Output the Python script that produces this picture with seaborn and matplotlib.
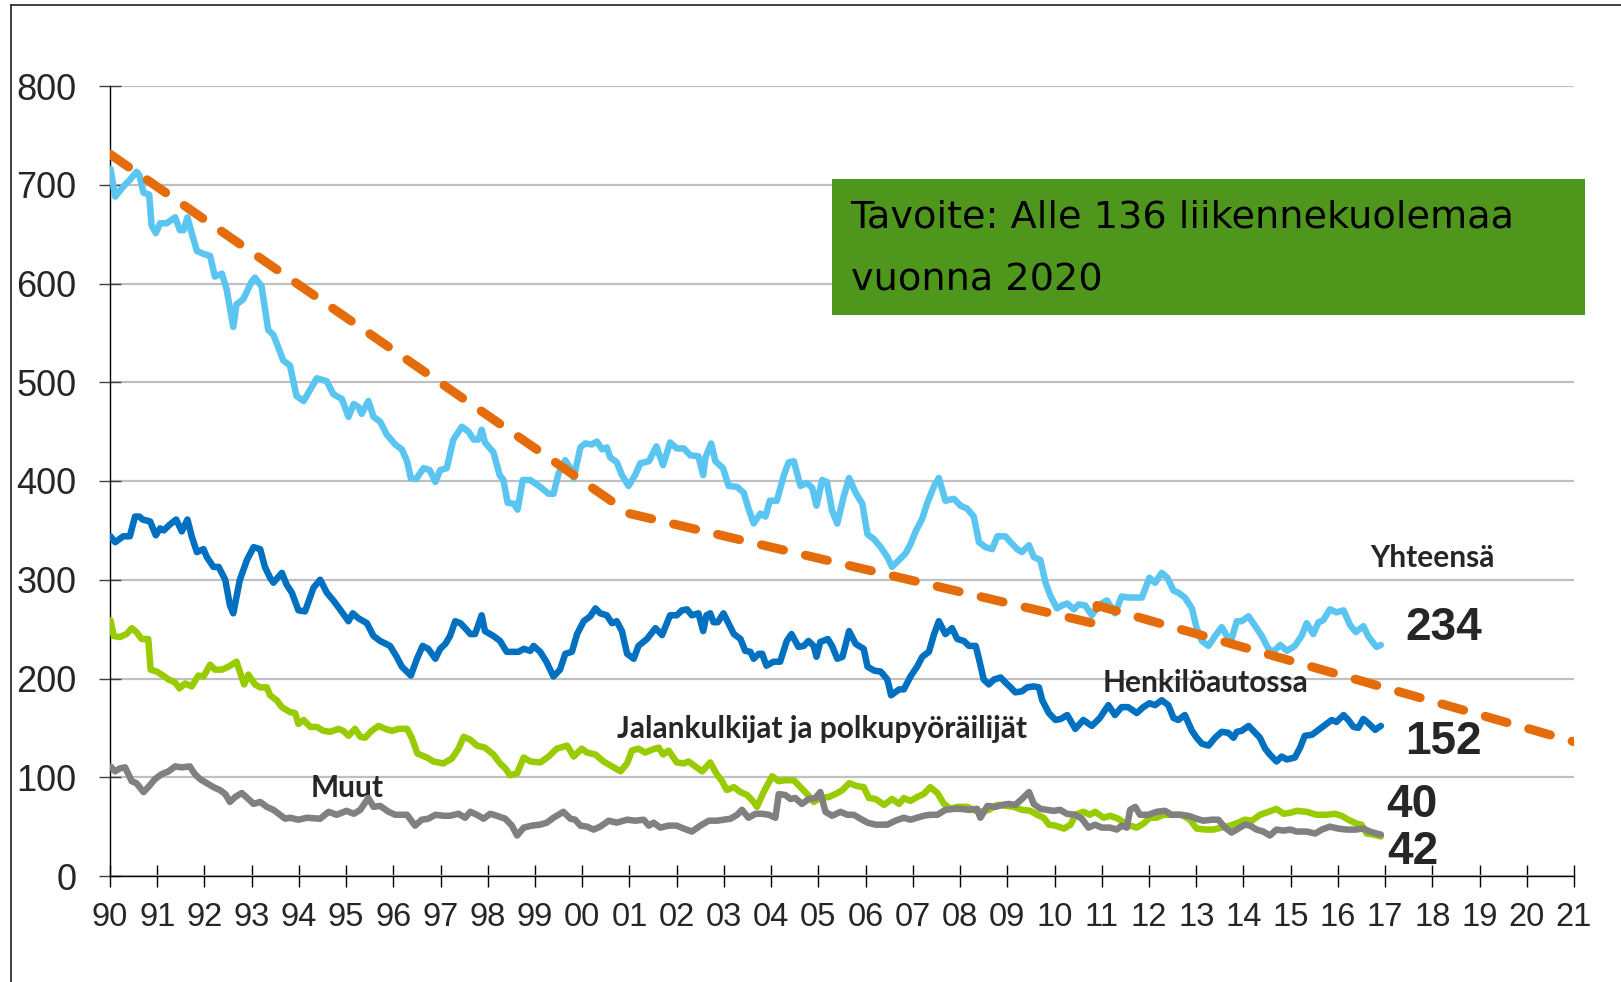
import matplotlib
matplotlib.use("Agg")
import matplotlib.pyplot as plt
import seaborn as sns
import pandas as pd
from matplotlib.patches import Rectangle
from matplotlib.lines import Line2D

# ---------------- data (rolling 12-month road deaths) -------------
t_total = [1990.01, 1990.11, 1990.28, 1990.42, 1990.56, 1990.62, 1990.71, 1990.83, 1990.88, 1990.97,
           1991.06, 1991.20, 1991.38, 1991.48, 1991.56, 1991.64, 1991.73, 1991.84, 1991.98, 1992.12,
           1992.22, 1992.37, 1992.47, 1992.61, 1992.68, 1992.82, 1993.00, 1993.07, 1993.21, 1993.35,
           1993.46, 1993.67, 1993.81, 1993.95, 1994.10, 1994.38, 1994.59, 1994.73, 1994.91, 1995.05,
           1995.16, 1995.26, 1995.33, 1995.47, 1995.58, 1995.72, 1995.86, 1996.04, 1996.18, 1996.29,
           1996.37, 1996.48, 1996.64, 1996.77, 1996.89, 1996.99, 1997.13, 1997.27, 1997.45, 1997.59,
           1997.70, 1997.80, 1997.87, 1997.94, 1998.12, 1998.25, 1998.33, 1998.42, 1998.55, 1998.63,
           1998.74, 1998.90, 1999.11, 1999.29, 1999.39, 1999.50, 1999.64, 1999.75, 1999.82, 1999.96,
           2000.06, 2000.20, 2000.31, 2000.42, 2000.52, 2000.59, 2000.73, 2000.84, 2000.98, 2001.12,
           2001.23, 2001.41, 2001.57, 2001.71, 2001.86, 2002.00, 2002.15, 2002.29, 2002.46, 2002.56,
           2002.61, 2002.73, 2002.82, 2002.98, 2003.10, 2003.28, 2003.42, 2003.52, 2003.63, 2003.77,
           2003.88, 2003.97, 2004.12, 2004.27, 2004.37, 2004.48, 2004.62, 2004.76, 2004.87, 2004.96,
           2005.08, 2005.18, 2005.29, 2005.40, 2005.54, 2005.65, 2005.79, 2005.93, 2006.04, 2006.18,
           2006.32, 2006.46, 2006.56, 2006.71, 2006.85, 2006.95, 2007.06, 2007.20, 2007.30, 2007.45,
           2007.55, 2007.69, 2007.87, 2008.01, 2008.15, 2008.29, 2008.40, 2008.54, 2008.68, 2008.79,
           2008.96, 2009.07, 2009.21, 2009.31, 2009.46, 2009.56, 2009.70, 2009.81, 2009.91, 2010.05,
           2010.16, 2010.27, 2010.41, 2010.51, 2010.65, 2010.79, 2010.93, 2011.11, 2011.28, 2011.42,
           2011.56, 2011.85, 2012.01, 2012.13, 2012.27, 2012.39, 2012.52, 2012.62, 2012.76, 2012.91,
           2013.01, 2013.12, 2013.26, 2013.40, 2013.54, 2013.65, 2013.75, 2013.86, 2013.96, 2014.11,
           2014.25, 2014.39, 2014.53, 2014.63, 2014.78, 2014.92, 2015.09, 2015.23, 2015.34, 2015.48,
           2015.59, 2015.69, 2015.83, 2015.97, 2016.12, 2016.26, 2016.38, 2016.54, 2016.64, 2016.75,
           2016.82, 2016.91]
v_total = [716, 688, 698, 705, 713, 710, 692, 690, 659, 651,
           661, 661, 667, 654, 654, 667, 651, 633, 630, 628,
           607, 610, 594, 556, 579, 584, 602, 606, 597, 553,
           548, 522, 517, 486, 481, 504, 501, 488, 483, 465,
           478, 475, 468, 481, 465, 460, 447, 437, 432, 420,
           403, 402, 413, 411, 399, 411, 413, 442, 455, 450,
           442, 442, 452, 439, 429, 406, 401, 378, 377, 371,
           401, 401, 394, 387, 387, 408, 421, 413, 403, 434,
           438, 437, 440, 432, 434, 424, 419, 406, 395, 406,
           418, 420, 435, 416, 439, 433, 433, 426, 425, 406,
           424, 438, 420, 413, 395, 394, 388, 372, 357, 367,
           364, 380, 380, 406, 419, 420, 395, 398, 393, 375,
           401, 399, 370, 357, 385, 403, 388, 377, 346, 341,
           333, 323, 313, 320, 327, 336, 349, 362, 377, 395,
           403, 380, 382, 375, 372, 364, 338, 333, 331, 344,
           344, 338, 331, 328, 335, 323, 320, 297, 284, 271,
           274, 276, 270, 275, 274, 264, 274, 279, 266, 283,
           282, 282, 302, 297, 307, 302, 289, 287, 282, 271,
           251, 238, 233, 243, 252, 243, 240, 258, 258, 263,
           253, 243, 230, 227, 234, 228, 233, 243, 256, 245,
           257, 259, 270, 267, 269, 254, 247, 253, 243, 236,
           232, 234]

t_car = [1990.01, 1990.11, 1990.28, 1990.42, 1990.53, 1990.62, 1990.69, 1990.85, 1990.97, 1991.06,
         1991.14, 1991.27, 1991.40, 1991.52, 1991.64, 1991.73, 1991.84, 1991.98, 1992.05, 1992.19,
         1992.30, 1992.44, 1992.54, 1992.61, 1992.75, 1992.90, 1993.04, 1993.18, 1993.28, 1993.39,
         1993.46, 1993.64, 1993.74, 1993.85, 1993.99, 1994.13, 1994.31, 1994.45, 1994.59, 1994.73,
         1994.87, 1995.05, 1995.14, 1995.26, 1995.44, 1995.58, 1995.72, 1995.93, 1996.07, 1996.18,
         1996.37, 1996.50, 1996.62, 1996.74, 1996.89, 1996.99, 1997.10, 1997.20, 1997.31, 1997.42,
         1997.52, 1997.63, 1997.73, 1997.87, 1997.94, 1998.12, 1998.26, 1998.40, 1998.65, 1998.76,
         1998.90, 1998.97, 1999.11, 1999.24, 1999.39, 1999.53, 1999.64, 1999.78, 1999.89, 2000.03,
         2000.17, 2000.28, 2000.38, 2000.52, 2000.63, 2000.73, 2000.84, 2000.95, 2001.09, 2001.19,
         2001.37, 2001.55, 2001.69, 2001.86, 2002.00, 2002.11, 2002.22, 2002.32, 2002.46, 2002.56,
         2002.63, 2002.71, 2002.78, 2002.87, 2002.99, 2003.21, 2003.35, 2003.45, 2003.56, 2003.63,
         2003.74, 2003.81, 2003.90, 2004.05, 2004.19, 2004.33, 2004.43, 2004.58, 2004.69, 2004.79,
         2004.90, 2004.96, 2005.04, 2005.20, 2005.29, 2005.40, 2005.51, 2005.65, 2005.79, 2005.96,
         2006.04, 2006.18, 2006.32, 2006.46, 2006.54, 2006.71, 2006.81, 2006.95, 2007.09, 2007.20,
         2007.34, 2007.45, 2007.55, 2007.69, 2007.83, 2007.94, 2008.08, 2008.19, 2008.33, 2008.40,
         2008.50, 2008.61, 2008.72, 2008.86, 2008.96, 2009.07, 2009.17, 2009.31, 2009.42, 2009.56,
         2009.67, 2009.74, 2009.88, 2010.02, 2010.13, 2010.27, 2010.44, 2010.61, 2010.79, 2010.96,
         2011.14, 2011.28, 2011.42, 2011.56, 2011.74, 2011.88, 2012.01, 2012.13, 2012.27, 2012.41,
         2012.52, 2012.62, 2012.76, 2012.91, 2013.01, 2013.12, 2013.26, 2013.40, 2013.54, 2013.68,
         2013.79, 2013.86, 2013.96, 2014.11, 2014.25, 2014.35, 2014.46, 2014.56, 2014.70, 2014.81,
         2014.92, 2015.09, 2015.20, 2015.30, 2015.45, 2015.59, 2015.73, 2015.87, 2015.97, 2016.12,
         2016.22, 2016.33, 2016.43, 2016.54, 2016.64, 2016.79, 2016.91]
v_car = [344, 338, 344, 344, 364, 364, 361, 359, 345, 352,
         350, 356, 361, 349, 361, 344, 328, 331, 323, 313,
         313, 300, 274, 266, 300, 320, 333, 331, 313, 302,
         297, 307, 295, 287, 269, 268, 292, 300, 287, 279,
         270, 258, 266, 261, 256, 243, 238, 233, 222, 212,
         203, 220, 233, 230, 220, 230, 235, 243, 258, 256,
         251, 245, 245, 264, 248, 243, 238, 227, 227, 230,
         228, 233, 227, 217, 202, 209, 225, 227, 245, 258,
         263, 271, 266, 264, 256, 258, 248, 225, 220, 233,
         240, 251, 244, 264, 264, 269, 270, 264, 266, 248,
         264, 266, 257, 257, 266, 245, 240, 228, 227, 220,
         225, 225, 213, 217, 217, 238, 245, 232, 233, 238,
         233, 222, 237, 240, 233, 220, 222, 248, 235, 230,
         212, 208, 207, 199, 183, 189, 189, 202, 212, 222,
         227, 245, 258, 245, 251, 240, 238, 233, 233, 220,
         199, 194, 199, 201, 196, 191, 186, 187, 191, 192,
         191, 178, 165, 158, 159, 163, 149, 158, 152, 160,
         173, 163, 171, 171, 165, 171, 175, 173, 178, 173,
         160, 158, 163, 147, 140, 134, 132, 140, 146, 145,
         140, 146, 147, 152, 145, 140, 129, 123, 116, 121,
         118, 120, 130, 142, 143, 148, 153, 158, 156, 163,
         158, 151, 150, 159, 155, 148, 152]

t_ped = [1990.01, 1990.08, 1990.21, 1990.35, 1990.46, 1990.56, 1990.67, 1990.81, 1990.86, 1990.99,
         1991.09, 1991.24, 1991.38, 1991.47, 1991.59, 1991.73, 1991.87, 1991.98, 1992.12, 1992.22,
         1992.37, 1992.51, 1992.68, 1992.84, 1992.93, 1993.07, 1993.18, 1993.32, 1993.39, 1993.53,
         1993.64, 1993.81, 1993.92, 1993.99, 1994.10, 1994.24, 1994.38, 1994.52, 1994.66, 1994.84,
         1994.94, 1995.05, 1995.19, 1995.30, 1995.40, 1995.54, 1995.69, 1995.83, 1995.97, 1996.11,
         1996.29, 1996.39, 1996.51, 1996.71, 1996.85, 1997.06, 1997.24, 1997.38, 1997.49, 1997.63,
         1997.77, 1997.94, 1998.12, 1998.26, 1998.37, 1998.47, 1998.62, 1998.76, 1998.90, 1999.11,
         1999.29, 1999.46, 1999.68, 1999.82, 1999.99, 2000.10, 2000.28, 2000.45, 2000.63, 2000.81,
         2000.95, 2001.05, 2001.19, 2001.33, 2001.48, 2001.62, 2001.71, 2001.83, 2002.00, 2002.15,
         2002.25, 2002.39, 2002.54, 2002.71, 2002.85, 2002.96, 2003.06, 2003.21, 2003.35, 2003.49,
         2003.63, 2003.70, 2003.84, 2004.02, 2004.16, 2004.30, 2004.48, 2004.62, 2004.76, 2004.90,
         2005.04, 2005.22, 2005.36, 2005.51, 2005.65, 2005.82, 2005.96, 2006.07, 2006.21, 2006.39,
         2006.56, 2006.71, 2006.81, 2006.95, 2007.09, 2007.23, 2007.37, 2007.52, 2007.66, 2007.80,
         2007.94, 2008.15, 2008.33, 2008.43, 2008.61, 2008.79, 2008.96, 2009.14, 2009.31, 2009.49,
         2009.63, 2009.77, 2009.88, 2010.02, 2010.20, 2010.34, 2010.44, 2010.61, 2010.75, 2010.86,
         2011.04, 2011.18, 2011.35, 2011.53, 2011.74, 2011.88, 2012.02, 2012.16, 2012.31, 2012.52,
         2012.69, 2012.87, 2013.01, 2013.22, 2013.36, 2013.54, 2013.72, 2013.89, 2014.03, 2014.18,
         2014.35, 2014.53, 2014.70, 2014.85, 2014.99, 2015.13, 2015.34, 2015.55, 2015.76, 2015.94,
         2016.08, 2016.22, 2016.40, 2016.50, 2016.61, 2016.75, 2016.91]
v_ped = [259, 243, 242, 245, 251, 247, 240, 240, 209, 207,
         204, 199, 196, 190, 195, 192, 203, 202, 214, 209,
         209, 212, 217, 194, 204, 194, 191, 191, 183, 178,
         171, 166, 165, 154, 158, 151, 151, 147, 146, 149,
         147, 142, 149, 141, 140, 147, 152, 149, 147, 149,
         149, 140, 124, 120, 116, 114, 119, 129, 141, 138,
         132, 130, 123, 114, 109, 102, 104, 120, 116, 115,
         121, 129, 132, 121, 129, 125, 123, 116, 111, 106,
         114, 127, 129, 125, 128, 130, 123, 127, 115, 114,
         116, 111, 106, 115, 103, 96, 87, 90, 85, 82,
         75, 70, 85, 101, 96, 97, 97, 90, 83, 75,
         79, 80, 83, 87, 94, 91, 90, 79, 78, 72,
         78, 73, 79, 76, 80, 83, 90, 84, 73, 68,
         70, 70, 66, 65, 67, 72, 71, 70, 67, 66,
         62, 59, 52, 51, 48, 52, 62, 65, 62, 65,
         59, 61, 58, 52, 49, 53, 59, 59, 62, 62,
         62, 57, 48, 47, 47, 49, 51, 54, 57, 56,
         62, 65, 68, 63, 64, 66, 65, 62, 62, 63,
         61, 57, 53, 52, 43, 42, 40]

t_other = [1990.01, 1990.11, 1990.21, 1990.32, 1990.39, 1990.46, 1990.56, 1990.71, 1990.81, 1990.95,
           1991.09, 1991.24, 1991.38, 1991.52, 1991.69, 1991.80, 1991.91, 1992.05, 1992.19, 1992.33,
           1992.44, 1992.54, 1992.65, 1992.79, 1992.93, 1993.04, 1993.18, 1993.32, 1993.46, 1993.60,
           1993.71, 1993.81, 1993.99, 1994.17, 1994.45, 1994.63, 1994.80, 1995.01, 1995.16, 1995.30,
           1995.47, 1995.58, 1995.72, 1995.90, 1996.04, 1996.29, 1996.46, 1996.60, 1996.74, 1996.89,
           1997.06, 1997.20, 1997.38, 1997.52, 1997.63, 1997.77, 1997.91, 1998.05, 1998.19, 1998.37,
           1998.51, 1998.62, 1998.76, 1998.93, 1999.11, 1999.25, 1999.39, 1999.60, 1999.75, 1999.85,
           1999.96, 2000.10, 2000.24, 2000.38, 2000.56, 2000.73, 2000.95, 2001.12, 2001.30, 2001.41,
           2001.51, 2001.65, 2001.83, 2002.00, 2002.15, 2002.32, 2002.50, 2002.68, 2002.85, 2002.99,
           2003.14, 2003.28, 2003.38, 2003.52, 2003.67, 2003.81, 2003.95, 2004.09, 2004.16, 2004.30,
           2004.41, 2004.51, 2004.65, 2004.80, 2004.94, 2005.04, 2005.15, 2005.29, 2005.47, 2005.61,
           2005.75, 2005.89, 2006.04, 2006.21, 2006.46, 2006.63, 2006.81, 2006.95, 2007.09, 2007.23,
           2007.37, 2007.52, 2007.69, 2007.87, 2008.01, 2008.19, 2008.36, 2008.43, 2008.58, 2008.75,
           2008.89, 2009.03, 2009.17, 2009.31, 2009.46, 2009.56, 2009.70, 2009.84, 2009.98, 2010.12,
           2010.26, 2010.44, 2010.58, 2010.72, 2010.86, 2011.00, 2011.18, 2011.32, 2011.42, 2011.53,
           2011.60, 2011.71, 2011.81, 2011.99, 2012.16, 2012.34, 2012.48, 2012.66, 2012.83, 2013.01,
           2013.15, 2013.33, 2013.47, 2013.61, 2013.75, 2013.89, 2014.03, 2014.14, 2014.28, 2014.42,
           2014.56, 2014.70, 2014.85, 2014.99, 2015.13, 2015.34, 2015.52, 2015.66, 2015.83, 2016.01,
           2016.19, 2016.36, 2016.54, 2016.68, 2016.82, 2016.91]
v_other = [111, 106, 109, 110, 103, 96, 94, 85, 90, 98,
           103, 106, 111, 110, 111, 103, 98, 94, 90, 87,
           83, 75, 80, 84, 78, 73, 75, 70, 67, 62,
           58, 59, 57, 59, 58, 65, 62, 66, 63, 67,
           79, 70, 71, 65, 62, 62, 51, 57, 58, 62,
           61, 61, 63, 59, 65, 62, 58, 63, 61, 58,
           51, 41, 49, 51, 52, 54, 59, 65, 58, 57,
           51, 50, 47, 50, 56, 54, 57, 56, 57, 51,
           54, 49, 51, 51, 48, 45, 51, 56, 56, 57,
           58, 62, 67, 59, 63, 63, 62, 59, 83, 82,
           78, 79, 73, 78, 79, 85, 65, 61, 65, 62,
           62, 58, 54, 52, 52, 56, 59, 57, 59, 61,
           62, 62, 67, 68, 68, 67, 68, 59, 71, 70,
           72, 73, 72, 78, 85, 73, 68, 67, 66, 67,
           63, 62, 58, 49, 52, 49, 49, 47, 51, 49,
           67, 70, 62, 62, 65, 66, 62, 62, 61, 58,
           56, 57, 57, 49, 44, 48, 52, 51, 47, 45,
           41, 47, 46, 47, 45, 45, 43, 47, 50, 48,
           47, 47, 48, 45, 43, 42]

# target path (dashed orange)
t_target = [1990.0, 2001.0, 2010.9, 2010.9, 2021.0]
v_target = [731, 367, 255, 274, 136]

# axis ticks
year_ticks = list(range(1990, 2022))
year_labels = [f"{y % 100:02d}" for y in year_ticks]
value_ticks = list(range(0, 900, 100))

# end labels
end_labels = ["234", "152", "40", "42"]
series_names = ["Yhteensä", "Henkilöautossa", "Jalankulkijat ja polkupyöräilijät", "Muut"]
goal_lines = ["Tavoite: Alle 136 liikennekuolemaa", "vuonna 2020"]

# ---------------- styling -------------
sns.set_style("white")
plt.rcParams['font.family'] = ['Liberation Sans', 'DejaVu Sans']

W, H = 1621, 982
fig = plt.figure(figsize=(W / 100, H / 100), dpi=100)
ax = fig.add_axes([110 / W, 1 - 876 / H, (1574 - 110) / W, (876 - 86) / H])

c_total = "#5BC5F2"
c_car = "#0070C0"
c_ped = "#99CC00"
c_other = "#808080"
c_target = "#E46C0A"

df_total = pd.DataFrame({"t": t_total, "v": v_total})
df_car = pd.DataFrame({"t": t_car, "v": v_car})
df_ped = pd.DataFrame({"t": t_ped, "v": v_ped})
df_other = pd.DataFrame({"t": t_other, "v": v_other})
df_target = pd.DataFrame({"t": t_target, "v": v_target})

LW = 4.7
common = dict(estimator=None, sort=False, ax=ax, legend=False)
sns.lineplot(data=df_total, x="t", y="v", color=c_total, lw=LW, zorder=3,
             solid_joinstyle="round", solid_capstyle="round", **common)
sns.lineplot(data=df_car, x="t", y="v", color=c_car, lw=LW, zorder=3,
             solid_joinstyle="round", solid_capstyle="round", **common)
sns.lineplot(data=df_ped, x="t", y="v", color=c_ped, lw=LW, zorder=3,
             solid_joinstyle="round", solid_capstyle="round", **common)
sns.lineplot(data=df_other, x="t", y="v", color=c_other, lw=LW, zorder=3.1,
             solid_joinstyle="round", solid_capstyle="round", **common)
sns.lineplot(data=df_target, x="t", y="v", color=c_target, lw=6.5, zorder=4,
             linestyle=(0, (2.5, 2.5)), dash_capstyle="round", **common)

ax.set_xlim(1990, 2021)
ax.set_ylim(0, 800)
ax.set_xticks(year_ticks)
ax.set_xticklabels(year_labels)
ax.set_yticks(value_ticks)
ax.set_xlabel("")
ax.set_ylabel("")

ax.yaxis.grid(True, color="#C0C0C0", lw=1.6, zorder=0)
ax.xaxis.grid(False)
ax.set_axisbelow(True)
for s in ["top", "right"]:
    ax.spines[s].set_visible(False)
for s in ["left", "bottom"]:
    ax.spines[s].set_color("#000000")
    ax.spines[s].set_linewidth(1.0)

ax.tick_params(axis="y", direction="inout", length=16, width=1.0, color="#404040",
               labelsize=26, pad=16, left=True)
ax.tick_params(axis="x", direction="inout", length=16, width=1.0, color="#000000",
               labelsize=23.5, pad=11, bottom=True)

# ---------------- annotations -------------
lab_font = ['Lato', 'DejaVu Sans']
LS = 21.5
ax.text(2018.0, 322, series_names[0], ha="center", va="center", fontsize=LS,
        fontweight="bold", family=lab_font)
ax.text(2013.2, 195, series_names[1], ha="center", va="center", fontsize=LS,
        fontweight="bold", family=lab_font)
ax.text(2005.08, 149, series_names[2], ha="center", va="center", fontsize=LS,
        fontweight="bold", family=lab_font)
ax.text(1995.02, 89, series_names[3], ha="center", va="center", fontsize=LS,
        fontweight="bold", family=lab_font)

num_font = ['Liberation Sans', 'DejaVu Sans']
ax.text(2017.42, 251, end_labels[0], ha="left", va="center", fontsize=33,
        fontweight="bold", family=num_font)
ax.text(2017.42, 136, end_labels[1], ha="left", va="center", fontsize=33,
        fontweight="bold", family=num_font)
ax.text(2017.03, 72, end_labels[2], ha="left", va="center", fontsize=33,
        fontweight="bold", family=num_font)
ax.text(2017.05, 24, end_labels[3], ha="left", va="center", fontsize=33,
        fontweight="bold", family=num_font)

# goal box
box_font = ['DejaVu Sans']
box = Rectangle((2005.28, 568), 2021.23 - 2005.28, 706 - 568, facecolor="#4F961C",
                edgecolor="none", clip_on=False, zorder=5)
ax.add_patch(box)
ax.text(2005.68, 657, goal_lines[0], ha="left", va="baseline", fontsize=27.5,
        family=box_font, color="black", zorder=6)
ax.text(2005.68, 593, goal_lines[1], ha="left", va="baseline", fontsize=27.5,
        family=box_font, color="black", zorder=6)

# outer frame (left and top edges)
fig.add_artist(Line2D([11 / W, 11 / W], [0, 1 - 5 / H], color="#202020", lw=1.2,
                      transform=fig.transFigure))
fig.add_artist(Line2D([11 / W, 1], [1 - 5 / H, 1 - 5 / H], color="#202020", lw=1.2,
                      transform=fig.transFigure))

fig.savefig("out.png", dpi=100)
